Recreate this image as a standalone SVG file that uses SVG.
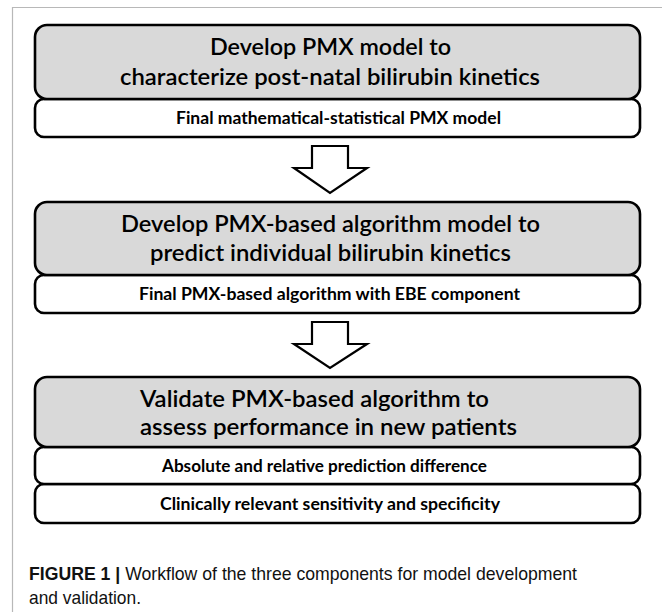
<svg xmlns="http://www.w3.org/2000/svg" width="663" height="612" viewBox="0 0 663 612">
<style>
.frame{fill:none;stroke:#b8b8b8;stroke-width:1.2}
.head{fill:#d9d9d9;stroke:#000;stroke-width:2.6}
.sub{fill:#fff;stroke:#000;stroke-width:2.6}
.t{font-family:Lato,"Open Sans",sans-serif;font-size:23px;font-weight:600;fill:#000}
.s{font-family:Lato,"Open Sans",sans-serif;font-size:16.5px;font-weight:bold;fill:#000}
.arrow{fill:#fff;stroke:#000;stroke-width:2.2;stroke-linejoin:miter}
.cap{font-family:"Liberation Sans",Arial,sans-serif;font-size:19px;fill:#111}
</style>
<rect width="663" height="612" fill="#fff"/>
<path class="frame" d="M12.5,620 V7.5 H662"/>
<g id="node1">
<rect class="sub" x="35" y="99" width="605" height="38" rx="9"/>
<rect class="head" x="35" y="25" width="605" height="74" rx="12"/>
<text class="t" x="210" y="55" textLength="241" lengthAdjust="spacingAndGlyphs">Develop PMX model to</text>
<text class="t" x="120" y="84.5" textLength="420" lengthAdjust="spacingAndGlyphs">characterize post-natal bilirubin kinetics</text>
<text class="s" x="176" y="124" textLength="325" lengthAdjust="spacingAndGlyphs">Final mathematical-statistical PMX model</text>
</g>
<g id="node2">
<rect class="sub" x="35" y="275" width="605" height="38" rx="9"/>
<rect class="head" x="35" y="202" width="605" height="73" rx="12"/>
<text class="t" x="121" y="231.5" textLength="419" lengthAdjust="spacingAndGlyphs">Develop PMX-based algorithm model to</text>
<text class="t" x="150" y="261" textLength="361" lengthAdjust="spacingAndGlyphs">predict individual bilirubin kinetics</text>
<text class="s" x="139" y="300" textLength="381" lengthAdjust="spacingAndGlyphs">Final PMX-based algorithm with EBE component</text>
</g>
<g id="node3">
<rect class="sub" x="35" y="484" width="605" height="39" rx="9"/>
<rect class="sub" x="35" y="447" width="605" height="37" rx="9"/>
<rect class="head" x="35" y="377" width="605" height="70" rx="12"/>
<text class="t" x="140" y="406.5" textLength="349" lengthAdjust="spacingAndGlyphs">Validate PMX-based algorithm to</text>
<text class="t" x="140" y="434.5" textLength="377" lengthAdjust="spacingAndGlyphs">assess performance in new patients</text>
<text class="s" x="162" y="471.5" textLength="325" lengthAdjust="spacingAndGlyphs">Absolute and relative prediction difference</text>
<text class="s" x="160" y="509.5" textLength="340" lengthAdjust="spacingAndGlyphs">Clinically relevant sensitivity and specificity</text>
</g>
<g id="connectors">
<path class="arrow" d="M312,146 H348 V168 H367 L330,193 L294,168 H312 Z"/>
<path class="arrow" d="M312,322 H348 V344 H367 L330,368 L294,344 H312 Z"/>
</g>
<g id="caption">
<text class="cap" x="29" y="580" textLength="548" lengthAdjust="spacingAndGlyphs"><tspan font-weight="bold">FIGURE 1 | </tspan>Workflow of the three components for model development</text>
<text class="cap" x="29" y="604" textLength="112" lengthAdjust="spacingAndGlyphs">and validation.</text>
</g>
</svg>
